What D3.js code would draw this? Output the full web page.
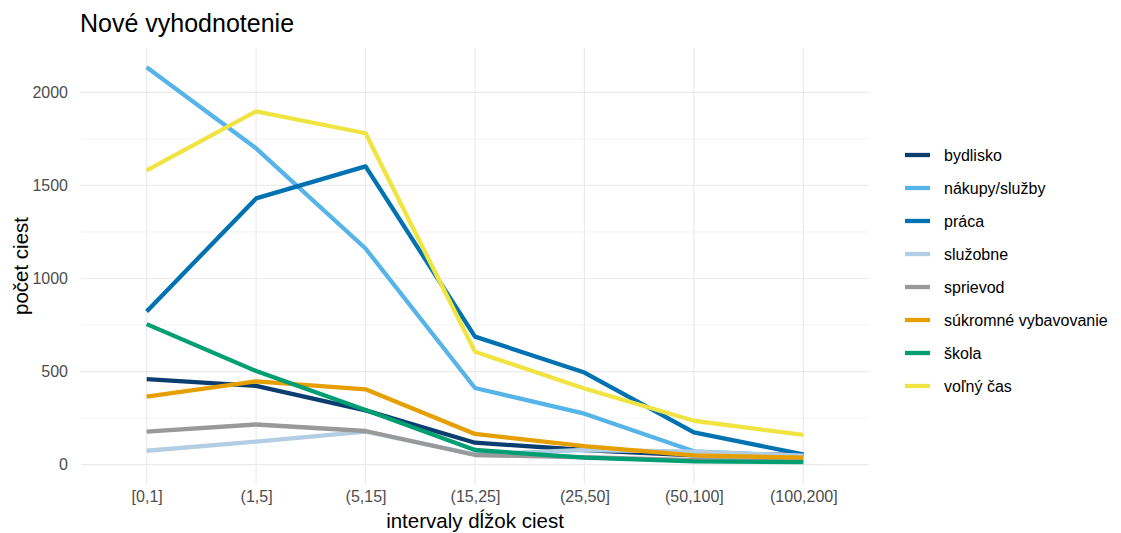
<!DOCTYPE html>
<html><head><meta charset="utf-8">
<script src="https://cdn.jsdelivr.net/npm/d3@7"></script>
<style>body{margin:0;background:#fff;font-family:"Liberation Sans",Arial,sans-serif;}</style>
</head><body>
<svg id="c" width="1121" height="533"></svg>
<script>
const categories = ["[0,1]","(1,5]","(5,15]","(15,25]","(25,50]","(50,100]","(100,200]"];
const seriesNames = ["bydlisko","nákupy/služby","práca","služobne","sprievod","súkromné vybavovanie","škola","voľný čas"];
const colors = ["#0b3d6f","#56b4e9","#0072b2","#b3cde3","#999999","#e69f00","#009e73","#f0e442"];
const bydlisko = [460, 423, 292, 118, 79, 50, 55];
const nakupy = [2134, 1699, 1161, 412, 274, 72, 45];
const praca = [823, 1430, 1602, 688, 495, 174, 55];
const sluzobne = [75, 124, 178, 55, 79, 70, 48];
const sprievod = [178, 216, 181, 52, 40, 25, 22];
const sukromne = [365, 448, 405, 165, 100, 50, 38];
const skola = [755, 503, 294, 79, 38, 18, 14];
const volny = [1581, 1898, 1780, 607, 409, 236, 160];
const yTicks = [0, 500, 1000, 1500, 2000];
const yMinor = [250, 750, 1250, 1750];
const seriesValues = [bydlisko, nakupy, praca, sluzobne, sprievod, sukromne, skola, volny];

const svg = d3.select("#c");
const L = 81, R = 869, T = 48, B = 484;
const x = d3.scalePoint().domain(categories).range([L, R]).padding(0.6);
const y = d3.scaleLinear().domain([0, 2000]).range([464.7, 92.3]);
const FF = "Liberation Sans, Arial, sans-serif";

const g = svg.append("g");
g.selectAll(".ymin").data(yMinor).enter().append("line")
  .attr("x1", L).attr("x2", R).attr("y1", d => y(d)).attr("y2", d => y(d))
  .attr("stroke", "#ebebeb").attr("stroke-width", 0.6);
g.selectAll(".ymaj").data(yTicks).enter().append("line")
  .attr("x1", L).attr("x2", R).attr("y1", d => y(d)).attr("y2", d => y(d))
  .attr("stroke", "#ebebeb").attr("stroke-width", 1.2);
g.selectAll(".xmaj").data(categories).enter().append("line")
  .attr("x1", d => x(d)).attr("x2", d => x(d)).attr("y1", T).attr("y2", B)
  .attr("stroke", "#ebebeb").attr("stroke-width", 1.2);

const yAxis = d3.axisLeft(y).tickValues(yTicks).tickFormat(d3.format("d")).tickSize(0).tickPadding(13);
const ya = svg.append("g").attr("transform", `translate(${L},0)`).call(yAxis);
ya.select(".domain").remove();
ya.selectAll("text").attr("fill", "#4d4d4d").style("font-size", "16px").style("font-family", FF);

const xAxis = d3.axisBottom(x).tickSize(0).tickPadding(7);
const xa = svg.append("g").attr("transform", `translate(0,${B})`).call(xAxis);
xa.select(".domain").remove();
xa.selectAll("text").attr("fill", "#4d4d4d").style("font-size", "16px").style("font-family", FF);

const line = d3.line().x((d, i) => x(categories[i])).y(d => y(d));
seriesValues.forEach((vals, k) => {
  svg.append("path").datum(vals).attr("d", line)
    .attr("fill", "none").attr("stroke", colors[k]).attr("stroke-width", 4.3)
    .attr("stroke-linejoin", "round");
});

svg.append("text").attr("x", 80).attr("y", 32).text("Nové vyhodnotenie")
  .style("font-size", "25px").style("font-family", FF).attr("fill", "#000");
svg.append("text").attr("x", (L + R) / 2).attr("y", 528).attr("text-anchor", "middle")
  .text("intervaly dĺžok ciest").style("font-size", "20.5px").style("font-family", FF);
svg.append("text").attr("transform", `translate(28,${(T + B) / 2}) rotate(-90)`).attr("text-anchor", "middle")
  .text("počet ciest").style("font-size", "20.5px").style("font-family", FF);

const lg = svg.append("g");
seriesNames.forEach((n, k) => {
  const yy = 155 + k * 33;
  lg.append("line").attr("x1", 905).attr("x2", 930).attr("y1", yy).attr("y2", yy)
    .attr("stroke", colors[k]).attr("stroke-width", 4.3);
  lg.append("text").attr("x", 944).attr("y", yy).attr("dy", "0.35em").text(n)
    .style("font-size", "16px").style("font-family", FF).attr("fill", "#000");
});
</script>
</body></html>
